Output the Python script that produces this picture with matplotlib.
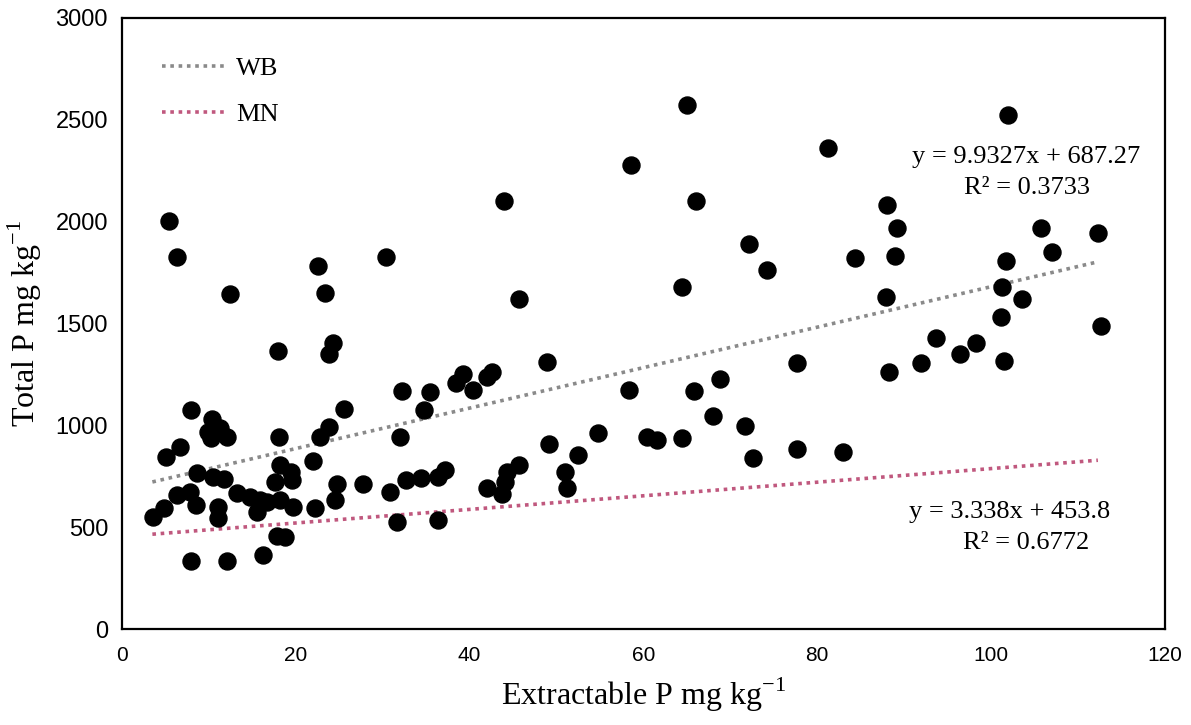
import numpy as np
import matplotlib.pyplot as plt

# Du lieu doc tu hinh (Extractable P, Total P)
extractable_p = [3.6, 4.8, 5.1, 5.4, 6.3, 6.3, 6.7, 7.8, 7.9, 8.0,
                 8.5, 8.6, 9.9, 10.3, 10.4, 10.5, 11.1, 11.1, 11.3, 11.7,
                 12.1, 12.1, 12.4, 13.2, 14.7, 15.5, 15.9, 16.2, 16.7, 17.6,
                 17.8, 17.9, 18.1, 18.2, 18.2, 18.8, 19.4, 19.6, 19.7, 22.0,
                 22.2, 22.6, 22.8, 23.4, 23.8, 23.8, 24.3, 24.5, 24.7, 25.6,
                 27.7, 30.4, 30.9, 31.7, 32.2, 32.0, 32.7, 34.4, 34.7, 35.4,
                 36.4, 36.4, 37.2, 38.4, 39.3, 40.4, 42.0, 42.6, 42.0, 43.7,
                 44.1, 44.3, 45.7, 44.0, 45.7, 48.9, 49.1, 51.0, 51.2, 52.5,
                 54.8, 58.3, 58.6, 60.4, 61.6, 64.5, 64.5, 65.0, 65.8, 66.1,
                 68.0, 68.8, 71.7, 72.1, 72.6, 74.2, 77.7, 77.7, 81.3, 83.0,
                 84.4, 87.9, 88.0, 88.3, 88.9, 89.2, 92.0, 93.7, 96.4, 98.3,
                 101.1, 101.3, 101.5, 101.7, 102.0, 103.6, 105.8, 107.0, 112.3, 112.7]
total_p = [551, 592, 843, 2003, 1828, 658, 895, 671, 334, 1075,
           609, 764, 969, 936, 1030, 748, 601, 543, 987, 736,
           945, 334, 1644, 670, 646, 573, 633, 363, 625, 723,
           458, 1366, 945, 805, 633, 450, 772, 731, 597, 827,
           592, 1782, 945, 1648, 994, 1348, 1402, 633, 712, 1080,
           710, 1828, 674, 527, 1170, 944, 731, 740, 1075, 1162,
           748, 535, 781, 1206, 1252, 1173, 1239, 1263, 691, 661,
           723, 772, 805, 2101, 1620, 1312, 906, 772, 691, 854,
           962, 1173, 2278, 944, 928, 936, 1677, 2572, 1168, 2101,
           1048, 1226, 998, 1889, 841, 1762, 1304, 882, 2360, 870,
           1820, 1632, 2081, 1260, 1833, 1970, 1304, 1430, 1348, 1406,
           1530, 1677, 1317, 1807, 2523, 1618, 1970, 1853, 1946, 1487]

# Duong xu huong (theo phuong trinh ghi tren hinh)
ten_nhom = ['WB', 'MN']
he_so_goc = [9.9327, 3.338]
he_so_tu_do = [687.27, 453.8]
r_binh_phuong = ['0.3733', '0.6772']
x_xu_huong = [3.5, 112.3]
mau_nhom = ['#8a8a8a', '#c0587e']

plt.rcParams['mathtext.fontset'] = 'custom'
plt.rcParams['mathtext.rm'] = 'Liberation Serif'

fig = plt.figure(figsize=(11.91, 7.25), dpi=100)
ax = fig.add_axes([0.1024, 0.1324, 0.8756, 0.8428])

ax.scatter(extractable_p, total_p, s=150, color='black', zorder=3)

xs = np.array(x_xu_huong)
for ten, a, b, mau in zip(ten_nhom, he_so_goc, he_so_tu_do, mau_nhom):
    ax.plot(xs, a * xs + b, linestyle=(0, (1, 1.3)), linewidth=2.6,
            color=mau, label=ten, zorder=2)

serif = ['Liberation Serif', 'DejaVu Serif']
ax.text(104.1, 2317, 'y = 9.9327x + 687.27', ha='center', va='center',
        fontsize=19, family=serif)
ax.text(104.2, 2165, 'R² = ' + r_binh_phuong[0], ha='center', va='center',
        fontsize=19, family=serif)
ax.text(102.2, 574, 'y = 3.338x + 453.8', ha='center', va='center',
        fontsize=19, family=serif)
ax.text(104.0, 422, 'R² = ' + r_binh_phuong[1], ha='center', va='center',
        fontsize=19, family=serif)

ax.set_xlim(0, 120)
ax.set_ylim(0, 3000)
ax.set_xticks(np.arange(0, 121, 20))
ax.set_yticks(np.arange(0, 3001, 500))
ax.tick_params(length=0, pad=12)
ax.tick_params(axis='x', labelsize=15)
ax.tick_params(axis='y', labelsize=17, pad=10)
for lab in ax.get_xticklabels() + ax.get_yticklabels():
    lab.set_family(['Liberation Sans', 'DejaVu Sans'])

for sp in ax.spines.values():
    sp.set_linewidth(1.6)
    sp.set_color('black')

ax.set_xlabel(r'Extractable P mg kg$^{\mathregular{-1}}$', fontsize=23,
              family=serif, labelpad=8)
ax.set_ylabel(r'Total P mg kg$^{\mathregular{-1}}$', fontsize=23,
              family=serif, labelpad=8)

leg = ax.legend(loc='upper left', bbox_to_anchor=(0.016, 0.975), frameon=False,
                prop={'family': serif, 'size': 19}, handlelength=2.4,
                handletextpad=0.4, labelspacing=0.85)

fig.savefig('out.png', dpi=100)
